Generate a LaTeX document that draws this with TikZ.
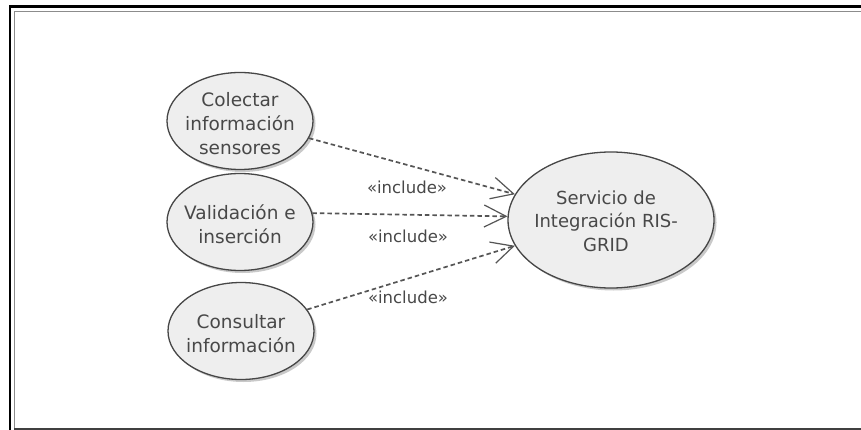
\documentclass[tikz,border=0pt]{standalone}
\usepackage{fontspec}
\setmainfont{DejaVu Sans}
\usetikzlibrary{shapes.geometric,arrows.meta,shadows}
\definecolor{txt}{RGB}{72,72,72}
\definecolor{ufill}{RGB}{238,238,238}
\definecolor{ubord}{RGB}{70,70,70}
\definecolor{dashc}{RGB}{85,85,85}
\begin{document}
\begin{tikzpicture}[x=1pt,y=-1pt,
  usecase/.style={ellipse, draw=ubord, line width=1.3pt, fill=ufill,
    minimum width=146pt, minimum height=97pt, inner sep=0pt,
    drop shadow={shadow xshift=2.5pt, shadow yshift=-2.5pt, opacity=0.35, fill=black!60}},
  uctext/.style={inner sep=0pt, align=center, font=\fontsize{18.5}{24}\selectfont, text=txt},
  incl/.style={draw=dashc, line width=1.7pt, dash pattern=on 4.5pt off 3pt,
    -{Straight Barb[length=22pt, width=22pt, line width=1.2pt]}},
  lbl/.style={font=\fontsize{16.5}{18}\selectfont, text=txt, inner sep=0pt}]
\useasboundingbox (0,0) rectangle (861,430);
\fill[white] (0,0) rectangle (861,430);
% frame
\draw[line width=2.5pt, black] (10,431) -- (10,6.7) -- (862,6.7);
\draw[line width=1.2pt, black!45] (14.3,428) -- (14.3,11.7) -- (862,11.7);
\draw[line width=2.2pt, black!75] (14,429) -- (862,429);
% use cases
\node[usecase] (col) at (240,121) {};
\node[uctext] (colt) at (240,124) {Colectar\\información\\sensores};
\node[usecase] (val) at (240,222) {};
\node[uctext] (valt) at (240,224) {Validación e\\inserción};
\node[usecase] (con) at (241,331) {};
\node[uctext] (cont) at (241,334) {Consultar\\información};
\node[usecase, minimum width=206pt, minimum height=136pt] (srv) at (611,220) {};
\node[uctext, font=\fontsize{18}{23.5}\selectfont] (srvt) at (606,221) {Servicio de\\Integración RIS-\\GRID};
% includes
\draw[incl] (col.-14) -- (srv.165);
\draw[incl] (val.7) -- (srv.178);
\draw[incl] (con.18) -- (srv.195);
\node[lbl] (l1) at (407,187) {«include»};
\node[lbl] (l2) at (408,236) {«include»};
\node[lbl] (l3) at (408,297) {«include»};
\end{tikzpicture}
\end{document}
